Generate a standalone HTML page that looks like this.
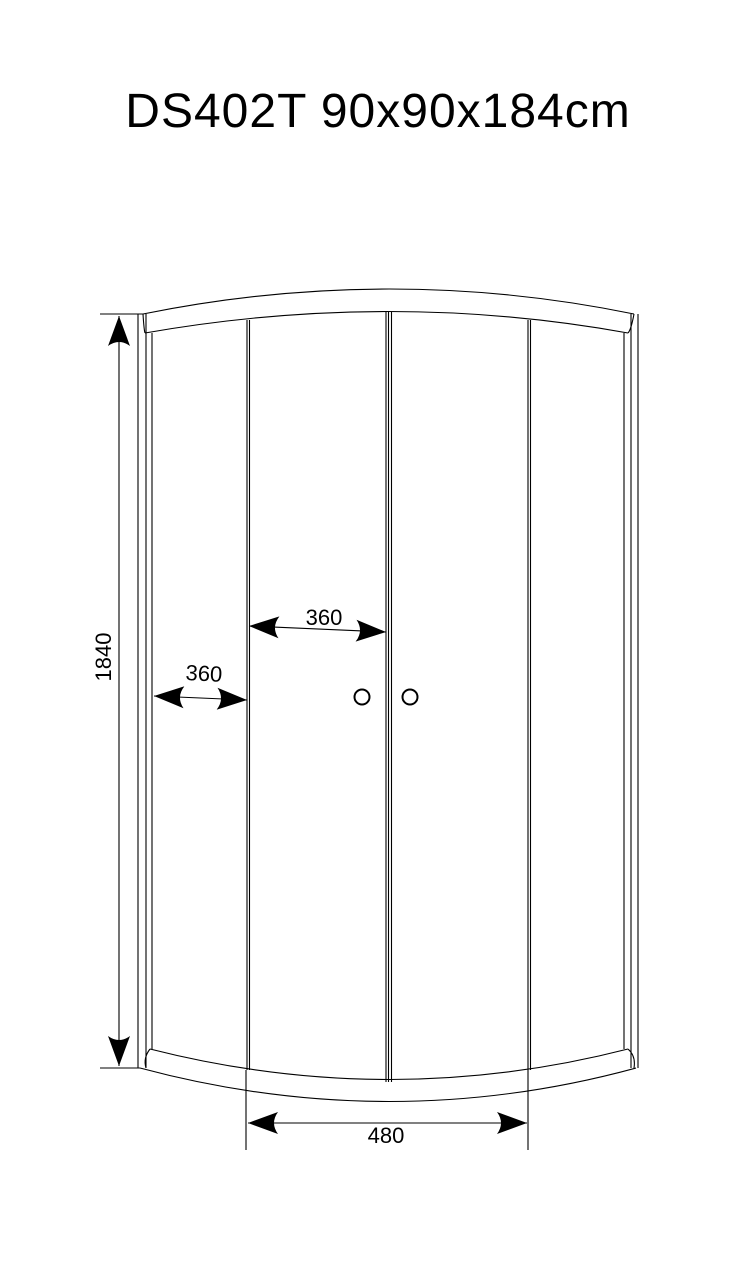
<!DOCTYPE html>
<html><head><meta charset="utf-8"><style>html,body{margin:0;padding:0;background:#fff}svg{display:block}</style></head>
<body>
<svg width="732" height="1267" viewBox="0 0 732 1267" xmlns="http://www.w3.org/2000/svg">
<defs>
<marker id="ah" viewBox="0 0 30 22" refX="30" refY="11" markerWidth="30" markerHeight="22" markerUnits="userSpaceOnUse" orient="auto-start-reverse">
<path d="M0,0 L30,11 L0,22 Q8,11 0,0Z" fill="#000"/>
</marker>
</defs>
<text x="378" y="127" text-anchor="middle" font-family="Liberation Sans, sans-serif" font-size="48" letter-spacing="1" fill="#000">DS402T 90x90x184cm</text>
<g fill="none" stroke="#000" stroke-width="1.1">
<path d="M143,314 Q390,264 634,314"/>
<path d="M145,333 Q390,290 628,333"/>
<path d="M143,314 Q144,330 145,333"/>
<path d="M634,314 Q631,330 628,333"/>
<line x1="138" y1="314" x2="138" y2="1068"/>
<line x1="146" y1="314" x2="146" y2="1068"/>
<line x1="152" y1="333" x2="152" y2="1049"/>
<line x1="624" y1="333" x2="624" y2="1049"/>
<line x1="631" y1="314" x2="631" y2="1068"/>
<line x1="638" y1="314" x2="638" y2="1068"/>
<line x1="247" y1="320" x2="247" y2="1070"/>
<line x1="249.5" y1="320" x2="249.5" y2="1070"/>
<line x1="386" y1="312" x2="386" y2="1082"/>
<line x1="388.5" y1="312" x2="388.5" y2="1082"/>
<line x1="391.5" y1="312" x2="391.5" y2="1082"/>
<line x1="528" y1="320" x2="528" y2="1070"/>
<line x1="530.5" y1="320" x2="530.5" y2="1070"/>
<path d="M150,1049 Q390,1110 628,1049"/>
<path d="M140,1068 Q390,1135 636,1068"/>
<path d="M150,1049 Q143,1058 146,1068"/>
<path d="M628,1049 Q636,1056 634,1068"/>
<line x1="100" y1="314" x2="143" y2="314"/>
<line x1="100" y1="1068" x2="140" y2="1068"/>
<line x1="119" y1="316" x2="119" y2="1066" marker-start="url(#ah)" marker-end="url(#ah)"/>
<line x1="246" y1="1070" x2="246" y2="1150"/>
<line x1="528" y1="1070" x2="528" y2="1150"/>
<line x1="248" y1="1123" x2="527" y2="1123" marker-start="url(#ah)" marker-end="url(#ah)"/>
<line x1="249" y1="626" x2="386" y2="632" marker-start="url(#ah)" marker-end="url(#ah)"/>
<line x1="154" y1="696" x2="247" y2="700" marker-start="url(#ah)" marker-end="url(#ah)"/>
<circle cx="362" cy="697" r="7.5" stroke-width="2"/>
<circle cx="410" cy="697" r="7.5" stroke-width="2"/>
</g>
<g font-family="Liberation Sans, sans-serif" font-size="22" fill="#000">
<text x="386" y="1143" text-anchor="middle">480</text>
<text x="324" y="625" text-anchor="middle">360</text>
<text x="204" y="681" text-anchor="middle" transform="rotate(3 204 673)">360</text>
<text x="0" y="0" text-anchor="middle" transform="translate(111 657) rotate(-90)">1840</text>
</g>
</svg>
</body></html>
